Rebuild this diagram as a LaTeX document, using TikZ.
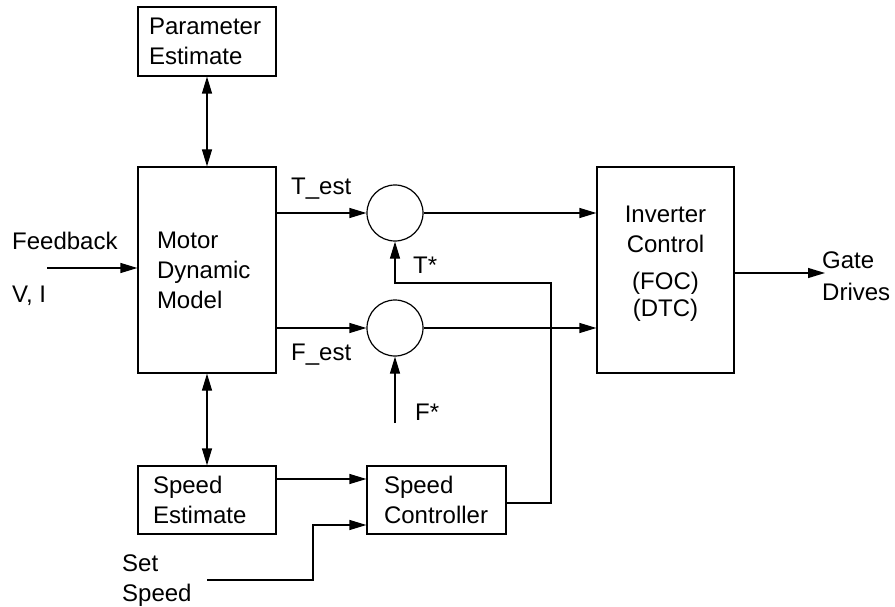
\documentclass[tikz,border=0pt]{standalone}
\usepackage{fontspec}
\setmainfont{Liberation Sans}
\usetikzlibrary{arrows.meta}
\begin{document}
\begin{tikzpicture}[x=1pt,y=-1pt,
  every node/.style={font=\fontsize{24}{30}\selectfont},
  box/.style={draw, line width=1.2pt, inner ysep=0pt, align=left},
  sumc/.style={draw, circle, line width=1.2pt, minimum size=56pt, inner sep=0pt},
  lbl/.style={inner sep=0pt, anchor=base west},
  conn/.style={line width=1.2pt},
  arr/.style={conn, -{Triangle[length=17pt,width=10pt]}},
  darr/.style={conn, {Triangle[length=17pt,width=10pt]}-{Triangle[length=17pt,width=10pt]}},
]
\useasboundingbox (0,0) rectangle (895,607);

% boxes
\node[box, minimum width=138, minimum height=69, text width=116, inner xsep=11] (pe) at (207,41.5) {Parameter\\Estimate};
\node[box, minimum width=138, minimum height=206, text width=100, inner xsep=19] (mdm) at (207,270) {Motor\\Dynamic\\Model};
\node[box, minimum width=138, minimum height=68, text width=108, inner xsep=15] (se) at (207,500) {Speed\\Estimate};
\node[box, minimum width=139, minimum height=68, text width=105, inner xsep=17] (sc) at (436.5,500) {Speed\\Controller};
\node[box, minimum width=137, minimum height=206] (inv) at (665.5,270) {};
\node[inner sep=0pt, align=center] (invtext) at (665.5,264) {Inverter\\Control\\[7pt](FOC)\\[-3pt](DTC)};

% summing circles
\node[sumc] (c1) at (395,213) {};
\node[sumc] (c2) at (395,328) {};

% helper coordinates
\coordinate (fbin) at (47,268);
\coordinate (gate) at (825,273);
\coordinate (fstar) at (395,423);
\coordinate (ssin) at (207,580);
\coordinate (ssbend) at (313,525);
\coordinate (tret) at (551,283);
\coordinate (seo) at ([yshift=21pt]se.east);
\coordinate (sco) at ([yshift=-3pt]sc.east);

% connectors
\draw[darr] (pe) -- (mdm);
\draw[darr] (mdm) -- (se);
\draw[arr] (fbin) -- (fbin -| mdm.west);
\draw[arr] (c1 -| mdm.east) -- (c1);
\draw[arr] (c2 -| mdm.east) -- (c2);
\draw[arr] (c1) -- (c1 -| inv.west);
\draw[arr] (c2) -- (c2 -| inv.west);
\draw[arr] (gate -| inv.east) -- (gate);
\draw[arr] (seo) -- (seo -| sc.west);
\draw[arr] (ssin) -| (ssbend) -- (ssbend -| sc.west);
\draw[arr] (sco) -| (tret) -| (c1.south);
\draw[arr] (fstar) -- (c2);

% labels
\node[lbl] (fb) at (12,250) {Feedback};
\node[lbl] (vi) at (12,302) {V, I};
\node[lbl] (test) at (291,195) {T\_est};
\node[lbl] (fest) at (291,360) {F\_est};
\node[lbl] (ts) at (413,273) {T*};
\node[lbl] (fs) at (415,420) {F*};
\node[inner sep=0pt, anchor=north west, align=left, font=\fontsize{24}{32}\selectfont] (gd) at (822,251.5) {Gate\\Drives};
\node[inner sep=0pt, anchor=north west, align=left] (ss) at (122,554.5) {Set\\Speed};
\end{tikzpicture}
\end{document}
